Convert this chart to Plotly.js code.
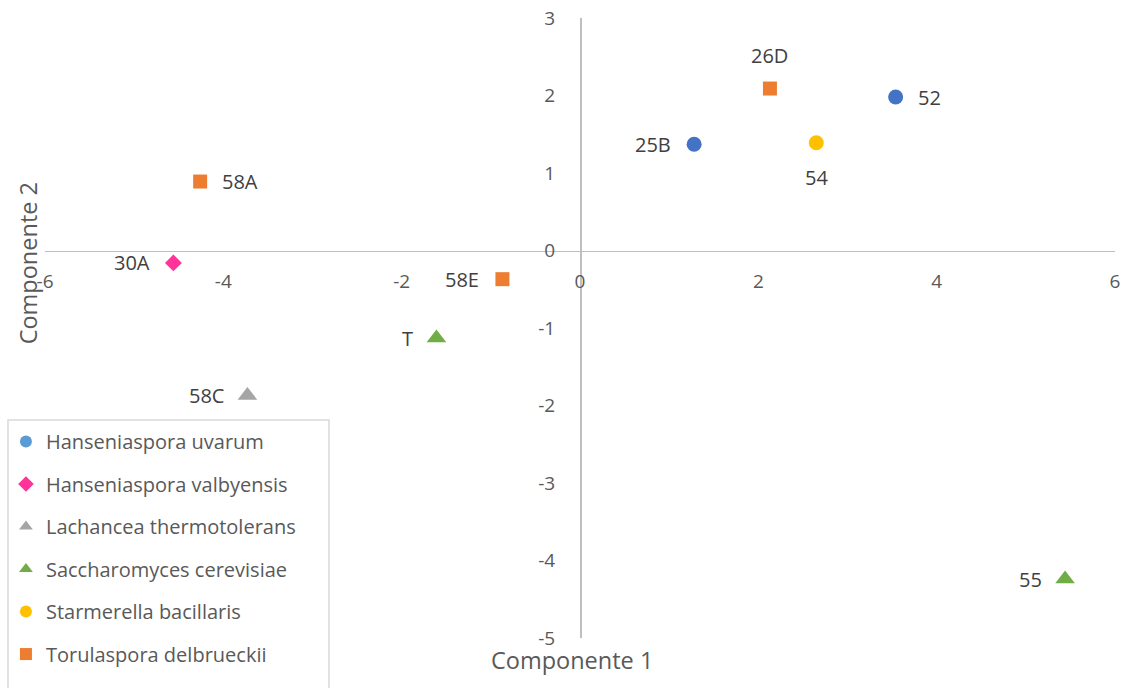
<!DOCTYPE html>
<html>
<head>
<meta charset="utf-8">
<script src="https://cdn.plot.ly/plotly-3.0.1.min.js"></script>
<style>
  html, body { margin: 0; padding: 0; background: #ffffff; }
  #chart { width: 1127px; height: 688px; }
</style>
</head>
<body>
<div id="chart"></div>
<script>
// Species (one trace each)
const species = [
  "Hanseniaspora uvarum",
  "Hanseniaspora valbyensis",
  "Lachancea thermotolerans",
  "Saccharomyces cerevisiae",
  "Starmerella bacillaris",
  "Torulaspora delbrueckii"
];

// Strain labels, component scores and species index per strain
const strainLabels = ["52", "25B", "30A", "58C", "T", "55", "54", "26D", "58A", "58E"];
const comp1 =        [3.54, 1.28, -4.56, -3.73, -1.61, 5.44, 2.65, 2.13, -4.26, -0.87];
const comp2 =        [1.98, 1.37, -0.16, -1.87, -1.13, -4.24, 1.39, 2.09, 0.89, -0.37];
const speciesIndex = [0, 0, 1, 2, 3, 3, 4, 5, 5, 5];
const labelSide =    ["right", "left", "left", "left", "left", "left", "below", "above", "right", "left"];

// Axis ticks (plain hyphen for negatives)
const xTickVals = [-6, -4, -2, 0, 2, 4, 6];
const xTickText = ["-6", "-4", "-2", "0", "2", "4", "6"];
const yTickVals = [-5, -4, -3, -2, -1, 0, 1, 2, 3];
const yTickText = ["-5", "-4", "-3", "-2", "-1", "0", "1", "2", "3"];

// Marker styling per species
const colors       = ["#4472C4", "#FF3399", "#A5A5A5", "#70AD47", "#FFC000", "#ED7D31"];
const legendColors = ["#5B9BD5", "#FF3399", "#A5A5A5", "#70AD47", "#FFC000", "#ED7D31"];
const symbols      = ["circle", "diamond", "triangle-up", "triangle-up", "circle", "square"];
const sizes        = [15, 13, 17, 17, 15, 14];

const FONT = "Open Sans, Lato, sans-serif";

// Plotted points, one trace per species
const pointTraces = species.map((name, s) => {
  const idx = speciesIndex.map((v, i) => v === s ? i : -1).filter(i => i >= 0);
  return {
    type: "scatter",
    mode: "markers",
    name: name,
    showlegend: false,
    x: idx.map(i => comp1[i]),
    y: idx.map(i => comp2[i]),
    marker: { color: colors[s], symbol: symbols[s], size: sizes[s], line: { width: 0 } },
    hoverinfo: "x+y+name"
  };
});

// Legend entries
const legendTraces = species.map((name, s) => ({
  type: "scatter",
  mode: "markers",
  name: name,
  legendgroup: "g" + s,
  x: [null], y: [null],
  marker: { color: legendColors[s], symbol: symbols[s], size: 12, line: { width: 0 } }
}));

// Data labels placed beside each marker
const shifts = {
  right: { xanchor: "left",   yanchor: "middle", xshift: 20,  yshift: 0 },
  left:  { xanchor: "right",  yanchor: "middle", xshift: -21, yshift: 0 },
  above: { xanchor: "center", yanchor: "middle", xshift: 0,   yshift: 33 },
  below: { xanchor: "center", yanchor: "middle", xshift: 0,   yshift: -35 }
};
const labelAnnotations = strainLabels.map((t, i) => Object.assign({
  x: comp1[i], y: comp2[i], xref: "x", yref: "y",
  text: t, showarrow: false,
  font: { family: FONT, size: 20, color: "#404040" }
}, shifts[labelSide[i]]));

const axisTitles = [
  {
    xref: "paper", yref: "paper", x: 0.4923, y: -0.035,
    xanchor: "center", yanchor: "middle", showarrow: false,
    text: "Componente 1",
    font: { family: FONT, size: 23.5, color: "#595959" }
  },
  {
    xref: "paper", yref: "paper", x: -0.0164, y: 0.605,
    xanchor: "center", yanchor: "middle", showarrow: false, textangle: -90,
    text: "Componente 2",
    font: { family: FONT, size: 23.5, color: "#595959" }
  }
];

// Legend frame
const legendFrame = {
  type: "rect", xref: "paper", yref: "paper", layer: "above",
  x0: -0.0346, x1: 0.2654, y0: 0.3516, y1: -0.12,
  line: { color: "#D9D9D9", width: 1.5 }, fillcolor: "#ffffff"
};

const layout = {
  width: 1127,
  height: 688,
  paper_bgcolor: "#ffffff",
  plot_bgcolor: "#ffffff",
  margin: { l: 45, r: 12, t: 18, b: 50, autoexpand: false },
  showlegend: true,
  legend: {
    x: -0.0365, y: 0.3483, xanchor: "left", yanchor: "top",
    bgcolor: "rgba(0,0,0,0)", borderwidth: 0,
    traceorder: "grouped", tracegroupgap: 13.5,
    font: { family: FONT, size: 20, color: "#595959" }
  },
  xaxis: {
    range: [-6, 6], tickmode: "array", tickvals: xTickVals, ticktext: xTickText,
    anchor: "free", position: 0.625,
    showline: true, linecolor: "#BFBFBF", linewidth: 1.5,
    showgrid: false, zeroline: false, ticks: "",
    ticklabelstandoff: 13,
    tickfont: { family: FONT, size: 19, color: "#595959" }
  },
  yaxis: {
    range: [-5, 3], tickmode: "array", tickvals: yTickVals, ticktext: yTickText,
    anchor: "free", position: 0.5,
    showline: true, linecolor: "#BFBFBF", linewidth: 1.5,
    showgrid: false, zeroline: false, ticks: "",
    ticklabelstandoff: 21,
    tickfont: { family: FONT, size: 19, color: "#595959" }
  },
  shapes: [legendFrame],
  annotations: labelAnnotations.concat(axisTitles)
};

Plotly.newPlot("chart", pointTraces.concat(legendTraces), layout, { displayModeBar: false, staticPlot: true });
</script>
</body>
</html>
